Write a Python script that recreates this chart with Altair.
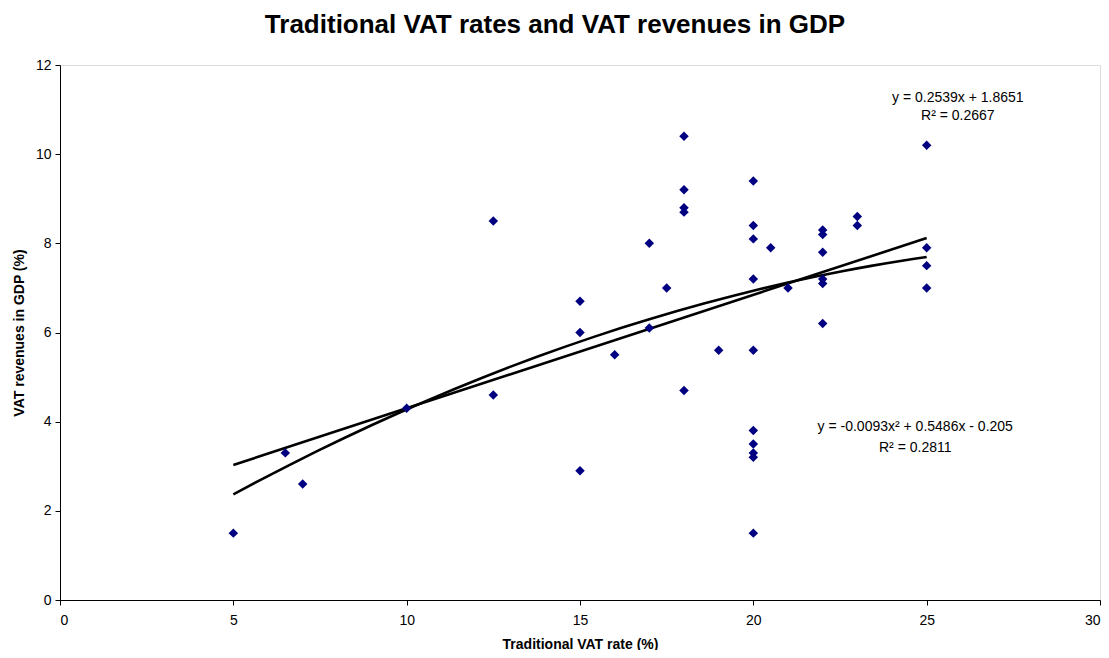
import altair as alt
import pandas as pd

vat_rate = [5, 6.5, 7, 10, 12.5, 12.5, 15, 15, 15, 16, 17, 17, 17.5,
            18, 18, 18, 18, 18, 19,
            20, 20, 20, 20, 20, 20, 20, 20, 20, 20,
            20.5, 21, 22, 22, 22, 22, 22, 22, 23, 23, 25, 25, 25, 25]
vat_rev = [1.5, 3.3, 2.6, 4.3, 8.5, 4.6, 6.7, 6.0, 2.9, 5.5, 8.0, 6.1, 7.0,
           10.4, 9.2, 8.8, 8.7, 4.7, 5.6,
           9.4, 8.4, 8.1, 7.2, 5.6, 3.8, 3.5, 3.3, 3.2, 1.5,
           7.9, 7.0, 8.3, 8.2, 7.8, 7.2, 7.1, 6.2, 8.6, 8.4, 10.2, 7.9, 7.5, 7.0]

labels = ["y = 0.2539x + 1.8651", "R² = 0.2667",
          "y = -0.0093x² + 0.5486x - 0.205", "R² = 0.2811"]
label_x = [25.9, 25.9, 24.67, 24.67]
label_y = [11.27, 10.85, 3.87, 3.42]

df = pd.DataFrame({"x": vat_rate, "y": vat_rev})
lab = pd.DataFrame({"x": label_x, "y": label_y, "t": labels})

FONT = "Liberation Sans"

xs = alt.Scale(domain=[0, 30], nice=False, zero=False)
ys = alt.Scale(domain=[0, 12], nice=False, zero=False)

xaxis = alt.Axis(values=[0, 5, 10, 15, 20, 25, 30], grid=False,
                 title="Traditional VAT rate (%)", titleFontWeight="bold",
                 titleFontSize=14, titlePadding=10, labelFontSize=14,
                 labelPadding=8, tickSize=5, domainColor="#000000",
                 tickColor="#000000", labelColor="#000000", titleColor="#000000")
yaxis = alt.Axis(values=[0, 2, 4, 6, 8, 10, 12], grid=False,
                 title="VAT revenues in GDP (%)", titleFontWeight="bold",
                 titleFontSize=14, titlePadding=9, labelFontSize=14,
                 labelPadding=4, tickSize=5, domainColor="#000000",
                 tickColor="#000000", labelColor="#000000", titleColor="#000000")

base = alt.Chart(df)

points = base.mark_point(shape="diamond", filled=True, color="#000080",
                         size=90, opacity=1).encode(
    x=alt.X("x:Q", scale=xs, axis=xaxis),
    y=alt.Y("y:Q", scale=ys, axis=yaxis),
)

lin = base.transform_regression("x", "y", method="linear", extent=[5, 25]).mark_line(
    color="#000000", strokeWidth=2.6).encode(
    x=alt.X("x:Q", scale=xs), y=alt.Y("y:Q", scale=ys))

poly = base.transform_regression("x", "y", method="poly", order=2, extent=[5, 25]).mark_line(
    color="#000000", strokeWidth=2.6).encode(
    x=alt.X("x:Q", scale=xs), y=alt.Y("y:Q", scale=ys))

text = alt.Chart(lab).mark_text(fontSize=14, font=FONT, color="#000000",
                                align="center", baseline="middle").encode(
    x=alt.X("x:Q", scale=xs), y=alt.Y("y:Q", scale=ys), text="t:N")

chart = alt.layer(lin, poly, points, text).properties(
    width=1040, height=535,
    title=alt.TitleParams("Traditional VAT rates and VAT revenues in GDP",
                          fontSize=26, fontWeight="bold", font=FONT,
                          color="#000000", offset=20, anchor="middle", dx=-25),
    autosize=alt.AutoSizeParams(type="none"),
    padding={"left": 52, "top": 57, "right": 1, "bottom": 50},
).configure_view(stroke="#808080", strokeWidth=1).configure(
    font=FONT
).configure_axis(labelFont=FONT, titleFont=FONT)

chart.save("out.html", embed_options={"renderer": "svg", "actions": False})
